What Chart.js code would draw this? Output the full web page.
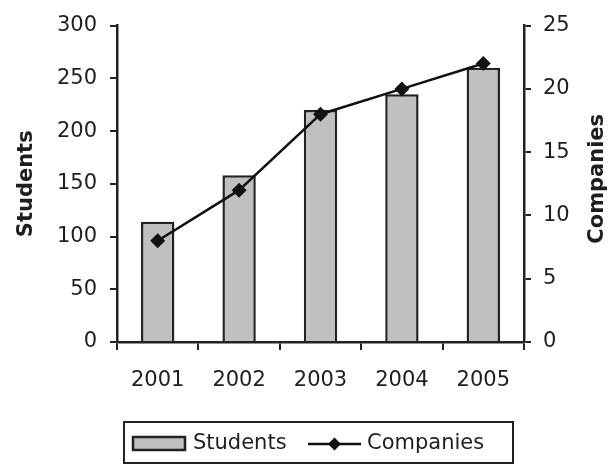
<!DOCTYPE html>
<html>
<head>
<meta charset="utf-8">
<script src="https://cdn.jsdelivr.net/npm/chart.js@4/dist/chart.umd.min.js"></script>
<style>
  html, body { margin: 0; padding: 0; background: #ffffff; }
  #wrap { width: 616px; height: 465px; }
</style>
</head>
<body>
<div id="wrap"><canvas id="c" width="616" height="465"></canvas></div>
<script>
const categories = ['2001', '2002', '2003', '2004', '2005'];
const students = [114, 158, 220, 235, 260];
const companies = [8, 12, 18, 20, 22];
const studentsTicks = [0, 50, 100, 150, 200, 250, 300];
const companiesTicks = [0, 5, 10, 15, 20, 25];

const FONT = "'DejaVu Sans', sans-serif";
const AXIS = '#222222';
const TEXT = '#1e1e1e';

const customDraw = {
  id: 'customDraw',
  afterDraw(chart) {
    const ctx = chart.ctx;
    ctx.save();
    // right axis title, reading bottom to top
    ctx.fillStyle = TEXT;
    ctx.font = "bold 21px " + FONT;
    ctx.textAlign = 'center';
    ctx.textBaseline = 'middle';
    ctx.translate(598, (chart.chartArea.top + chart.chartArea.bottom) / 2 - 5);
    ctx.rotate(-Math.PI / 2);
    ctx.fillText('Companies', 0, 0);
    ctx.restore();

    // legend
    ctx.save();
    const bx = 124, by = 422, bw = 389, bh = 41;
    ctx.strokeStyle = AXIS;
    ctx.lineWidth = 2;
    ctx.strokeRect(bx, by, bw, bh);
    const cy = 444;
    // bar swatch
    ctx.fillStyle = '#c0c0c0';
    ctx.fillRect(133, 437, 52, 13);
    ctx.strokeStyle = '#222222';
    ctx.lineWidth = 2.5;
    ctx.strokeRect(133, 437, 52, 13);
    ctx.fillStyle = TEXT;
    ctx.font = "21px " + FONT;
    ctx.textAlign = 'left';
    ctx.textBaseline = 'middle';
    ctx.fillText(chart.data.datasets[0].label, 193, cy);
    // line swatch
    ctx.strokeStyle = '#111111';
    ctx.lineWidth = 2.5;
    ctx.beginPath();
    ctx.moveTo(308, cy);
    ctx.lineTo(361, cy);
    ctx.stroke();
    ctx.fillStyle = '#111111';
    ctx.beginPath();
    ctx.moveTo(334.5, cy - 6.5);
    ctx.lineTo(341, cy);
    ctx.lineTo(334.5, cy + 6.5);
    ctx.lineTo(328, cy);
    ctx.closePath();
    ctx.fill();
    ctx.fillStyle = TEXT;
    ctx.fillText(chart.data.datasets[1].label, 367, cy);
    ctx.restore();
  }
};

new Chart(document.getElementById('c'), {
  data: {
    labels: categories,
    datasets: [
      {
        type: 'bar',
        label: 'Students',
        data: students,
        yAxisID: 'y',
        backgroundColor: '#c0c0c0',
        borderColor: '#222222',
        borderWidth: 2.5,
        barPercentage: 0.41,
        categoryPercentage: 1.0,
        order: 1
      },
      {
        type: 'line',
        label: 'Companies',
        data: companies,
        yAxisID: 'y1',
        borderColor: '#111111',
        borderWidth: 2.5,
        pointStyle: 'rectRot',
        pointRadius: 7.5,
        pointBackgroundColor: '#111111',
        pointBorderColor: '#111111',
        pointBorderWidth: 0,
        tension: 0,
        fill: false,
        order: 0
      }
    ]
  },
  options: {
    responsive: false,
    animation: false,
    events: [],
    layout: { padding: { top: 20, bottom: 0, left: 0, right: 0 } },
    plugins: {
      legend: { display: false },
      tooltip: { enabled: false },
      title: { display: false }
    },
    scales: {
      x: {
        type: 'category',
        offset: true,
        grid: {
          offset: true,
          drawOnChartArea: false,
          drawTicks: true,
          tickLength: 8,
          color: AXIS,
          lineWidth: 2
        },
        border: { display: true, color: AXIS, width: 2.5 },
        ticks: {
          color: TEXT,
          font: { family: FONT, size: 21 },
          padding: 18,
          maxRotation: 0
        },
        afterFit(scale) { scale.height = 123; }
      },
      y: {
        type: 'linear',
        position: 'left',
        min: 0,
        max: 300,
        afterBuildTicks(scale) { scale.ticks = studentsTicks.map(v => ({ value: v })); },
        grid: {
          drawOnChartArea: false,
          drawTicks: true,
          tickLength: 7,
          color: AXIS,
          lineWidth: 2
        },
        border: { display: true, color: AXIS, width: 2.5 },
        ticks: {
          color: TEXT,
          font: { family: FONT, size: 21 },
          padding: 13
        },
        title: {
          display: true,
          text: 'Students',
          color: TEXT,
          font: { family: FONT, size: 21, weight: 'bold' },
          padding: { top: 14, bottom: 0 }
        },
        afterFit(scale) { scale.width = 117; }
      },
      y1: {
        type: 'linear',
        position: 'right',
        min: 0,
        max: 25,
        afterBuildTicks(scale) { scale.ticks = companiesTicks.map(v => ({ value: v })); },
        grid: {
          drawOnChartArea: false,
          drawTicks: true,
          tickLength: 7,
          color: AXIS,
          lineWidth: 2
        },
        border: { display: true, color: AXIS, width: 2.5 },
        ticks: {
          color: TEXT,
          font: { family: FONT, size: 21 },
          padding: 12
        },
        afterFit(scale) { scale.width = 92; }
      }
    }
  },
  plugins: [customDraw]
});
</script>
</body>
</html>
